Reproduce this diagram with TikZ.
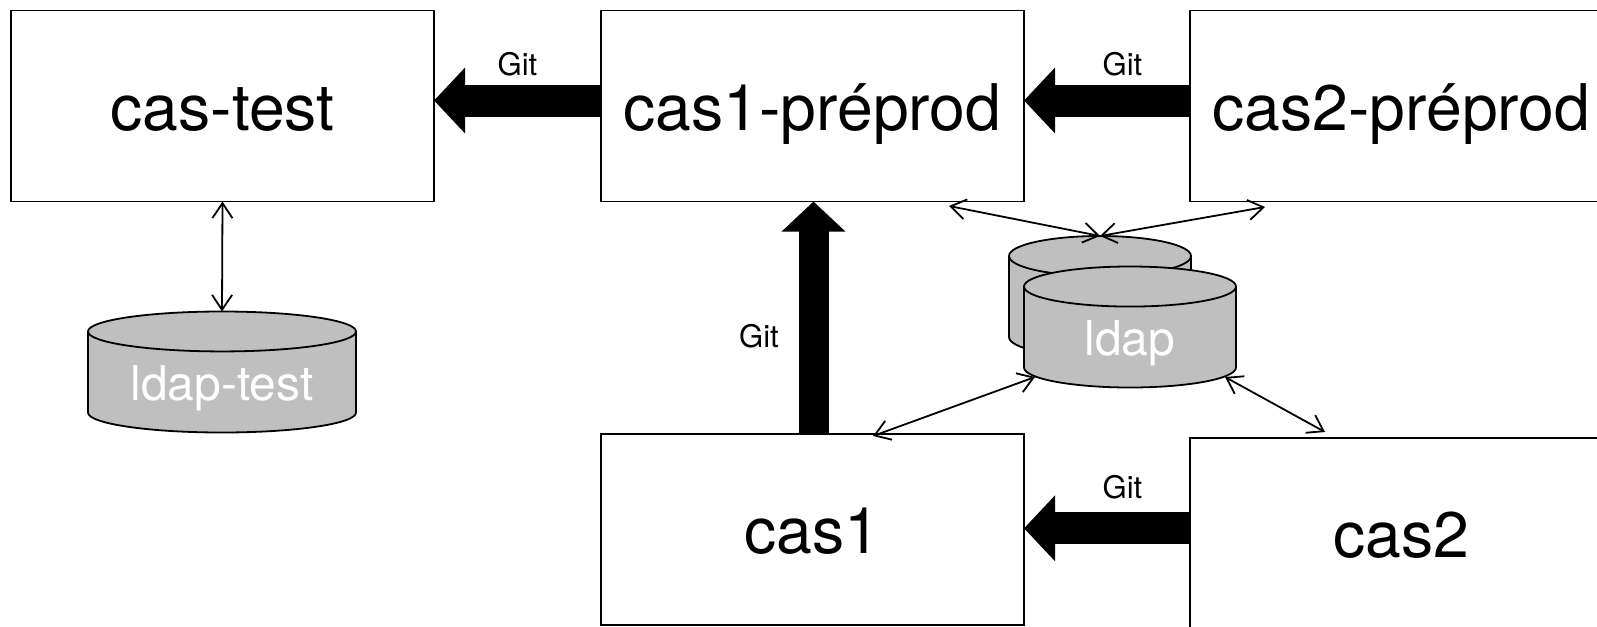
\documentclass[tikz,border=0pt]{standalone}
\usepackage{fontspec}
\setmainfont{TeX Gyre Heros}
\usetikzlibrary{arrows.meta,shapes.geometric}
\tikzset{
    boxnode/.style={draw,line width=1.8pt,inner sep=0pt,outer sep=0pt,minimum width=423pt,minimum height=191pt,text height=48pt,text depth=0pt,font=\fontsize{64.3}{64}\selectfont},
    ldapnode/.style 2 args={draw,line width=1.8pt,fill=black!25,text=white,cylinder,shape border rotate=90,aspect=#2,inner sep=0pt,outer sep=0pt,anchor=shape center,minimum height=121pt,text width=#1pt,text height=46pt,text depth=10pt,align=center,font=\fontsize{48}{48}\selectfont},
    gitlabel/.style={anchor=base,inner sep=0pt,font=\fontsize{31}{31}\selectfont},
    gitarrow/.style={line width=32pt,-{Triangle[length=31pt,width=64pt]}},
    gitup/.style={line width=30pt,-{Triangle[length=30pt,width=62pt]}},
    linkarrow/.style={line width=1.8pt,{Straight Barb[length=15pt,width=20pt]}-{Straight Barb[length=15pt,width=20pt]}},
}
\begin{document}
\begin{tikzpicture}[x=1pt,y=-1pt]
    \useasboundingbox (0,0) rectangle (1597,626);
    \foreach \name/\x/\y/\txt in {castest/222.5/106/cas-test,caspre/812.5/106/cas1-préprod,caspretwo/1401.5/106/cas2-préprod,casone/812.5/529.5/cas1,castwo/1401.5/533.5/cas2}{
        \node[boxnode] (\name) at (\x,\y) {\txt};
    }
    \node[ldapnode={268}{0.149}] (ldaptest) at (222,372) {ldap-test};
    \node[ldapnode={182}{0.22}] (ldapback) at (1100,296.5) {};
    \node[ldapnode={212}{0.189}] (ldapfront) at (1130,327) {ldap};

    \coordinate (preleft) at (949,206);
    \coordinate (preright) at (1265,207);
    \coordinate (ldapleft) at (1035,377);
    \coordinate (ldapright) at (1225,377);
    \coordinate (oneend) at (873,436);
    \coordinate (twoend) at (1325,432);

    % git arrows
    \draw[gitarrow] ([yshift=5.5pt]caspre.west) -- ([yshift=5.5pt]castest.east);
    \draw[gitarrow] ([yshift=5.5pt]caspretwo.west) -- ([yshift=5.5pt]caspre.east);
    \draw[gitarrow] ([yshift=5.2pt]castwo.west) -- ([yshift=1.2pt]casone.east);
    \draw[gitup] ([xshift=1pt]casone.north) -- ([xshift=1pt]caspre.south);
    \node[gitlabel] (gita) at (517.5,75) {Git};
    \node[gitlabel] (gitb) at (1122.5,75) {Git};
    \node[gitlabel] (gitc) at (1122.5,498) {Git};
    \node[gitlabel] (gitd) at (759,347) {Git};

    % ldap links
    \draw[linkarrow] (castest.south) -- (ldaptest.north);
    \draw[linkarrow] (preleft) -- (ldapback.north);
    \draw[linkarrow] (preright) -- (ldapback.north);
    \draw[linkarrow] (ldapleft) -- (oneend);
    \draw[linkarrow] (ldapright) -- (twoend);
\end{tikzpicture}
\end{document}
